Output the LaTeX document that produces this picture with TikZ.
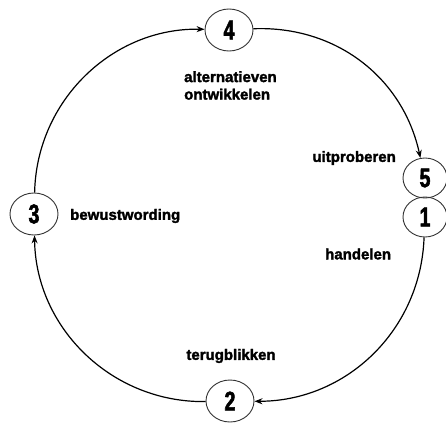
\documentclass[tikz,border=0pt]{standalone}
\usepackage{fontspec}
\setmainfont{Liberation Sans}
\newfontfamily\digitfont[FakeStretch=0.72,FakeBold=2]{Liberation Sans}
\newfontfamily\labelfont[FakeBold=2]{Liberation Sans}
\usetikzlibrary{shapes.geometric,arrows.meta}
\begin{document}
\begin{tikzpicture}[x=1pt,y=1pt,
  stagenode/.style={ellipse,draw=black!80,line width=0.9pt,minimum width=48pt,minimum height=42pt,inner sep=0pt,font=\digitfont\bfseries\fontsize{27}{27}\selectfont},
  smallstage/.style={stagenode,minimum width=44pt,minimum height=40pt},
  lbl/.style={font=\labelfont\bfseries\fontsize{15}{17.5}\selectfont,inner sep=0pt},
  arr/.style={line width=1.2pt,-{Stealth[length=8pt,width=6pt]}}]
\fill[white] (0,0) rectangle (446,-425);
\useasboundingbox (0,0) rectangle (446,-425);
\node[stagenode] (n4) at (229,-30) {4};
\node[smallstage] (n5) at (425,-178) {5};
\node[smallstage] (n1) at (425,-217) {1};
\node[stagenode] (n3) at (34,-214) {3};
\node[stagenode] (n2) at (230,-401) {2};
\node[lbl,align=left,anchor=north west] (l4) at (184,-71) {alternatieven\\ontwikkelen};
\node[lbl,anchor=east] (l5) at (396,-158) {uitproberen};
\node[lbl,anchor=west] (l1) at (325,-254) {handelen};
\node[lbl,anchor=west] (l3) at (70,-216) {bewustwording};
\node[lbl] (l2) at (231,-356) {terugblikken};
\draw[arr] (n3) to[bend left=45] (n4);
\draw[arr] (n4) to[bend left=40] (n5);
\draw[arr] (n1) to[bend left=44] (n2);
\draw[arr] (n2) to[bend left=45] (n3);
\end{tikzpicture}
\end{document}
